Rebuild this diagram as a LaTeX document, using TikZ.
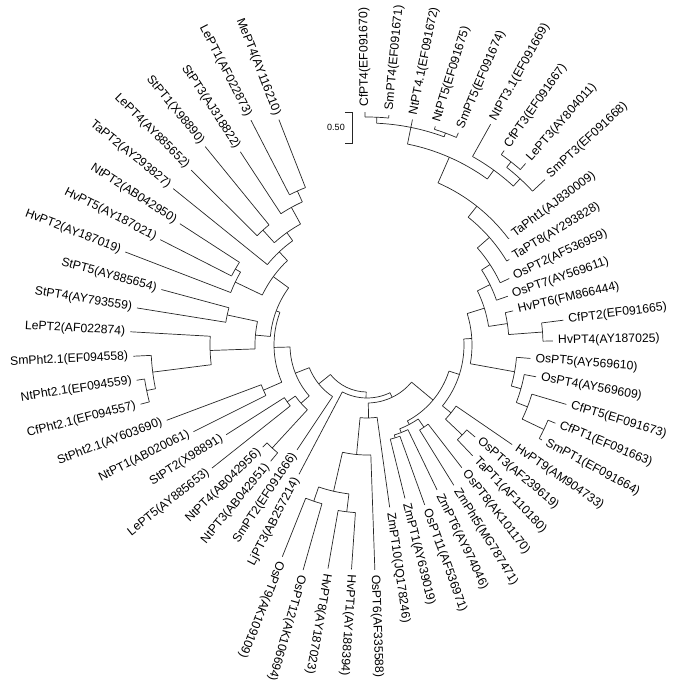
\documentclass[tikz,border=0pt]{standalone}
\usepackage{fontspec}
\setmainfont{Liberation Sans}
\usetikzlibrary{positioning}
\pgfmathdeclarefunction{ang}{1}{\pgfmathparse{90.5-5.95*(#1-1)}}
\tikzset{
  twig/.style={line width=0.7pt, draw=black!85},
  lab/.style={font=\fontsize{12.2}{14}\selectfont, inner sep=0pt},
  scalelab/.style={font=\fontsize{9}{10}\selectfont, inner sep=0pt},
}
% internal node: radius, parent radius, slot, first child slot, last child slot
\newcommand{\tnode}[5]{\draw[twig] ({ang(#3)}:#2) -- ({ang(#3)}:#1);
  \draw[twig] ({ang(#4)}:#1) arc[start angle={ang(#4)}, end angle={ang(#5)}, radius=#1pt];}
% leaf: slot, parent radius, tip radius, name, text
\newcommand{\leafR}[5]{\draw[twig] ({ang(#1)}:#2) -- ({ang(#1)}:#3);
  \node[lab, anchor=west, rotate={ang(#1)}] (#4) at ({ang(#1)}:{#3+5}) {#5};}
\newcommand{\leafL}[5]{\draw[twig] ({ang(#1)}:#2) -- ({ang(#1)}:#3);
  \node[lab, anchor=east, rotate={ang(#1)+180}] (#4) at ({ang(#1)}:{#3+5}) {#5};}

\begin{document}
\begin{tikzpicture}[x=1pt, y=1pt]
  \useasboundingbox (-367,-349) rectangle (308,345);

  % Scale bar
  \draw[twig] (-22,233) -- (-15,233) -- (-15,202) -- (-22,202);
  \node[scalelab] (scale) at (-31,218) {0.50};

  % Top clade
  \tnode{228}{222}{1.5}{1}{2}
  \tnode{226}{222}{4.5}{4}{5}
  \tnode{222}{205}{3}{1.5}{4.5}
  \tnode{233}{226}{7.5}{7}{8}
  \tnode{226}{216}{8.25}{7.5}{9}
  \tnode{216}{205}{7.125}{6}{8.25}
  \tnode{205}{177}{5.0625}{3}{7.125}
  % Right spine
  \tnode{177}{163}{7.53125}{5.0625}{10}
  \tnode{163}{147}{9.265625}{7.53125}{11}
  \tnode{147}{137}{10.6328}{9.265625}{12}
  \tnode{137}{123}{11.8164}{10.6328}{13}
  \tnode{176}{142}{15.5}{15}{16}
  \tnode{142}{123}{14.75}{14}{15.5}
  \tnode{123}{105}{13.2832}{11.8164}{14.75}
  \tnode{196}{172}{20.5}{20}{21}
  \tnode{172}{160}{19.75}{19}{20.5}
  \tnode{160}{150}{18.875}{18}{19.75}
  \tnode{150}{105}{17.9375}{17}{18.875}
  \tnode{105}{97}{15.6104}{13.2832}{17.9375}
  \tnode{131}{108}{23.5}{23}{24}
  \tnode{108}{97}{22.75}{22}{23.5}
  \tnode{97}{86}{19.1802}{15.6104}{22.75}
  \tnode{100}{90}{25.5}{25}{26}
  \tnode{97}{94}{28.5}{28}{29}
  \tnode{94}{90}{27.75}{27}{28.5}
  \tnode{90}{86}{26.625}{25.5}{27.75}
  \tnode{86}{58}{22.9026}{19.1802}{26.625}
  % Bottom clade
  \tnode{168}{150}{32.5}{32}{33}
  \tnode{165}{150}{34.5}{34}{35}
  \tnode{150}{110}{33.5}{32.5}{34.5}
  \tnode{110}{73}{32.25}{31}{33.5}
  \tnode{73}{58}{31.125}{30}{32.25}
  \tnode{58}{53}{27.0138}{22.9026}{31.125}
  \tnode{53}{47}{31.5069}{27.0138}{36}
  % Left clades
  \tnode{140}{88}{38.5}{38}{39}
  \tnode{98}{88}{40.5}{40}{41}
  \tnode{88}{77}{39.5}{38.5}{40.5}
  \tnode{225}{216}{44.5}{44}{45}
  \tnode{216}{157}{45.25}{44.5}{46}
  \tnode{157}{112}{46.125}{45.25}{47}
  \tnode{143}{112}{48.5}{48}{49}
  \tnode{112}{97}{47.3125}{46.125}{48.5}
  \tnode{152}{146}{51.5}{51}{52}
  \tnode{146}{116}{50.75}{50}{51.5}
  \tnode{169}{157}{57.5}{57}{58}
  \tnode{157}{138}{56.75}{56}{57.5}
  \tnode{155}{138}{54.5}{54}{55}
  \tnode{138}{128}{55.625}{54.5}{56.75}
  \tnode{128}{116}{54.3125}{53}{55.625}
  \tnode{116}{97}{52.53125}{50.75}{54.3125}
  \tnode{97}{93}{49.921875}{47.3125}{52.53125}
  \tnode{113}{93}{42.5}{42}{43}
  \tnode{93}{77}{46.2109}{42.5}{49.921875}
  \tnode{77}{62}{42.8555}{39.5}{46.2109}
  \tnode{62}{47}{39.9277}{37}{42.8555}
  % Root
  \draw[twig] ({ang(31.5069)}:47) arc[start angle={ang(31.5069)}, end angle={ang(39.9277)}, radius=47pt];

  % Leaves
  \leafR{1}{228}{233}{cfpt4}{CfPT4(EF091670)}
  \leafR{2}{228}{231}{smpt4}{SmPT4(EF091671)}
  \leafR{3}{222}{230}{ntpt41}{NtPT4.1(EF091672)}
  \leafR{4}{226}{229}{ntpt5}{NtPT5(EF091675)}
  \leafR{5}{226}{231}{smpt5}{SmPT5(EF091674)}
  \leafR{6}{216}{253}{ntpt31}{NtPT3.1(EF091669)}
  \leafR{7}{233}{238}{cfpt3}{CfPT3(EF091667)}
  \leafR{8}{233}{241}{lept3}{LePT3(AY804011)}
  \leafR{9}{226}{243}{smpt3}{SmPT3(EF091668)}
  \leafR{10}{177}{178}{tapht1}{TaPht1(AJ830009)}
  \leafR{11}{163}{166}{tapt8}{TaPT8(AY293828)}
  \leafR{12}{147}{157}{ospt2}{OsPT2(AF536959)}
  \leafR{13}{137}{149}{ospt7}{OsPT7(AY569611)}
  \leafR{14}{142}{150}{hvpt6}{HvPT6(FM866444)}
  \leafR{15}{176}{198}{cfpt2}{CfPT2(EF091665)}
  \leafR{16}{176}{186}{hvpt4}{HvPT4(AY187025)}
  \leafR{17}{150}{164}{ospt5}{OsPT5(AY569610)}
  \leafR{18}{160}{172}{ospt4}{OsPT4(AY569609)}
  \leafR{19}{172}{208}{cfpt5}{CfPT5(EF091673)}
  \leafR{20}{196}{204}{cfpt1}{CfPT1(EF091663)}
  \leafR{21}{196}{199}{smpt1}{SmPT1(EF091664)}
  \leafR{22}{108}{176}{hvpt9}{HvPT9(AM904733)}
  \leafR{23}{131}{142}{ospt3}{OsPT3(AF239619)}
  \leafR{24}{131}{153}{tapt1}{TaPT1(AF110180)}
  \leafR{25}{100}{155}{ospt8}{OsPT8(AK101170)}
  \leafR{26}{100}{165}{zmpht5}{ZmPht5(MG787471)}
  \leafR{27}{94}{161}{zmpt6}{ZmPT6(AY974046)}
  \leafR{28}{97}{170}{ospt11}{OsPT11(AF536971)}
  \leafR{29}{97}{158}{zmpt1}{ZmPT1(AY639019)}
  \leafR{30}{73}{164}{zmpt10}{ZmPT10(JQ178246)}
  \leafR{31}{110}{225}{ospt6}{OsPT6(AF335588)}
  \leafR{32}{168}{225}{hvpt1}{HvPT1(AY188394)}
  \leafR{33}{168}{227}{hvpt8}{HvPT8(AY187023)}
  \leafR{34}{165}{234}{ospt12}{OsPT12(AK106694)}
  \leafR{35}{165}{228}{ospt9}{OsPT9(AK109109)}
  \leafL{36}{53}{146}{ljpt3}{LjPT3(AB257214)}
  \leafL{37}{62}{126}{smpt2}{SmPT2(EF091666)}
  \leafL{38}{140}{151}{ntpt3}{NtPT3(AB042951)}
  \leafL{39}{140}{146}{ntpt4}{NtPT4(AB042956)}
  \leafL{40}{98}{198}{lept5}{LePT5(AY885653)}
  \leafL{41}{98}{167}{stpt2}{StPT2(X98891)}
  \leafL{42}{113}{194}{ntpt1}{NtPT1(AB020061)}
  \leafL{43}{113}{214}{stpht21}{StPht2.1(AY603690)}
  \leafL{44}{225}{234}{cfpht21}{CfPht2.1(EF094557)}
  \leafL{45}{225}{233}{ntpht21}{NtPht2.1(EF094559)}
  \leafL{46}{216}{234}{smpht21}{SmPht2.1(EF094558)}
  \leafL{47}{157}{237}{lept2}{LePT2(AF022874)}
  \leafL{48}{143}{233}{stpt4}{StPT4(AY793559)}
  \leafL{49}{143}{213}{stpt5}{StPT5(AY885654)}
  \leafL{50}{146}{259}{hvpt2}{HvPT2(AY187019)}
  \leafL{51}{152}{232}{hvpt5}{HvPT5(AY187021)}
  \leafL{52}{152}{223}{ntpt2}{NtPT2(AB042950)}
  \leafL{53}{128}{249}{tapt2}{TaPT2(AY293827)}
  \leafL{54}{155}{248}{lept4}{LePT4(AY885652)}
  \leafL{55}{155}{256}{stpt1}{StPT1(X98890)}
  \leafL{56}{157}{231}{stpt3}{StPT3(AJ318822)}
  \leafL{57}{169}{253}{lept1}{LePT1(AF022873)}
  \leafL{58}{169}{242}{mept4}{MePT4(AY116210)}
\end{tikzpicture}
\end{document}
